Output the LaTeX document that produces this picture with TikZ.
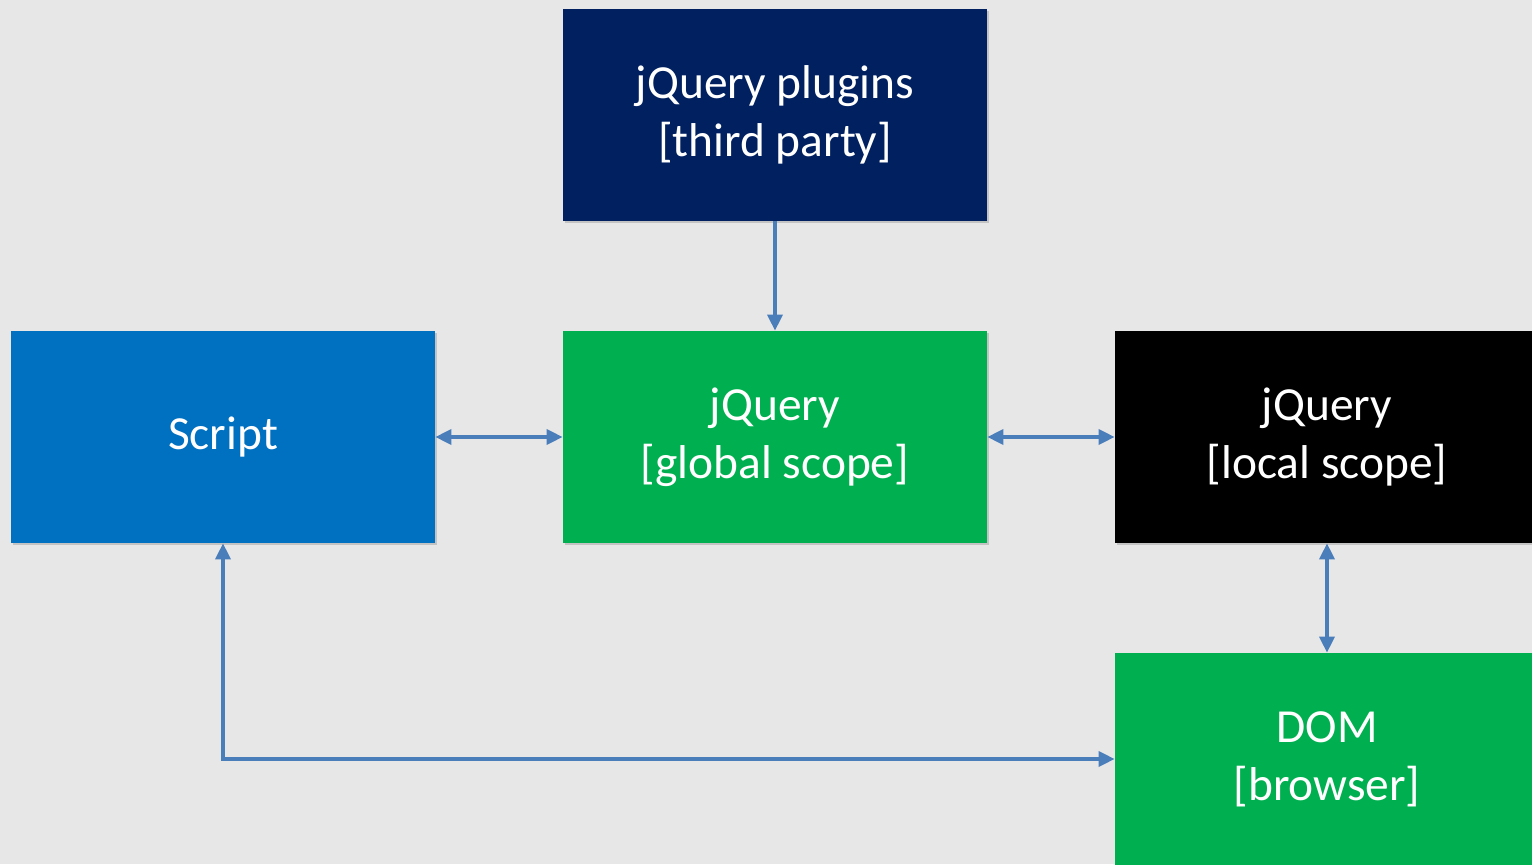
\documentclass[tikz,border=0pt]{standalone}
\usepackage{fontspec}
\setmainfont{Carlito}
\usetikzlibrary{arrows.meta,shadows}
\definecolor{bggray}{HTML}{E7E7E7}
\definecolor{navy}{HTML}{002060}
\definecolor{scriptblue}{HTML}{0070C0}
\definecolor{jqgreen}{HTML}{00B050}
\definecolor{linkblue}{HTML}{4A7EBB}
\tikzset{
  box/.style={minimum width=8.48cm,minimum height=4.24cm,inner sep=0pt,
    text=white,align=center,font=\fontsize{27}{33}\selectfont,
    drop shadow={shadow xshift=0.04cm,shadow yshift=-0.05cm,opacity=0.35}},
  link/.style={draw=linkblue,line width=2pt,
    -{Triangle[length=0.32cm,width=0.3cm]}},
  biglink/.style={link,{Triangle[length=0.32cm,width=0.3cm]}-{Triangle[length=0.32cm,width=0.3cm]}}
}
\begin{document}
\begin{tikzpicture}
\useasboundingbox (0,0) rectangle (30.64,17.28);
\clip (0,0) rectangle (30.64,17.28);
\fill[bggray] (0,0) rectangle (30.64,17.28);
            % Boxes
\node[box,fill=navy] (plugins) at (15.5,14.98) {jQuery plugins\\{}[third party]};
\node[box,fill=scriptblue] (script) at (4.46,8.54) {Script};
\node[box,fill=jqgreen] (global) at (15.5,8.54) {jQuery\\{}[global scope]};
\node[box,fill=black] (local) at (26.54,8.54) {jQuery\\{}[local scope]};
\node[box,fill=jqgreen] (dom) at (26.54,2.1) {DOM\\{}[browser]};
%Links
\draw[link] (plugins) -- (global);
\draw[biglink] (script) -- (global);
\draw[biglink] (global) -- (local);
\draw[biglink] (local) -- (dom);
\draw[biglink] (script.south) |- (dom.west);
\end{tikzpicture}
\end{document}
